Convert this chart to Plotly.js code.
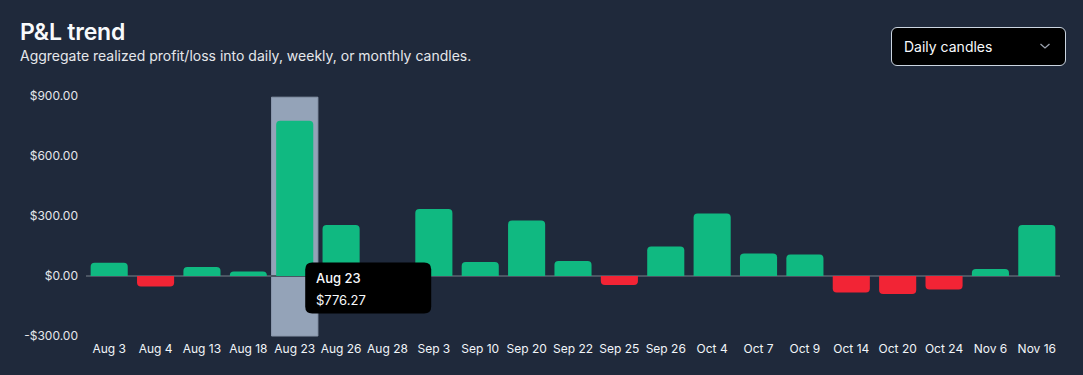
<!DOCTYPE html>
<html>
<head>
<meta charset="utf-8">
<script src="https://cdn.plot.ly/plotly-3.0.1.min.js"></script>
<style>
  html, body { margin:0; padding:0; background:#1f293b; width:1083px; height:375px; overflow:hidden;
    font-family: Inter, "Noto Sans", "DejaVu Sans", sans-serif; }
  #chart { position:absolute; left:0; top:0; width:1083px; height:375px; }
  #hdr { position:absolute; left:20px; top:19px; z-index:2; color:#f8fafc; }
  #hdr .t { font-size:23px; font-weight:600; line-height:27px; letter-spacing:-0.2px; }
  #hdr .s { font-size:14px; font-weight:400; line-height:18px; color:#e5e7eb; margin-top:1px; }
  #dd { position:absolute; left:891px; top:27px; width:173px; height:37px; z-index:2;
    background:#000; border:1px solid #cbd5e1; border-radius:6px; box-sizing:content-box; }
  #dd .l { position:absolute; left:12px; top:0; line-height:37px; font-size:14px; color:#f8fafc; }
  #dd svg { position:absolute; right:14px; top:13px; }
</style>
</head>
<body>
<div id="hdr">
  <div class="t">P&amp;L trend</div>
  <div class="s">Aggregate realized profit/loss into daily, weekly, or monthly candles.</div>
</div>
<div id="dd">
  <span class="l">Daily candles</span>
  <svg width="12" height="10" viewBox="0 0 12 10"><path d="M1.5 3 L6 7 L10.5 3" fill="none" stroke="#9ca3af" stroke-width="1.3"/></svg>
</div>
<div id="chart"></div>
<script>
// ---- data ----
const categories = ["Aug 3","Aug 4","Aug 13","Aug 18","Aug 23","Aug 26","Aug 28","Sep 3","Sep 10","Sep 20","Sep 22","Sep 25","Sep 26","Oct 4","Oct 7","Oct 9","Oct 14","Oct 20","Oct 24","Nov 6","Nov 16"];
const pnlValues = [66, -53, 45, 23, 776.27, 255, 0, 335, 70, 278, 75, -45, 148, 313, 113, 107, -83, -90, -67, 35, 255];
const yTickVals = [-300, 0, 300, 600, 900];
const yTickText = ["-$300.00", "$0.00", "$300.00", "$600.00", "$900.00"];
const hoveredCategory = "Aug 23";

const POS = "#10b981", NEG = "#f22435";
const fmt = v => (v < 0 ? "-$" : "$") + Math.abs(v).toLocaleString("en-US", {minimumFractionDigits:2, maximumFractionDigits:2});

const hi = categories.indexOf(hoveredCategory);
const hiVal = pnlValues[hi];

const trace = {
  type: "bar",
  x: categories,
  y: pnlValues,
  marker: { color: pnlValues.map(v => v >= 0 ? POS : NEG), cornerradius: 4, line: {width: 0} },
  hoverinfo: "skip"
};

// rounded tooltip box in pixel units relative to hovered bar at y=0
const bx0 = 10.5, bx1 = 136.5, by0 = -37.5, by1 = 13.5, r = 7;
const tipPath = `M ${bx0 + r} ${by1} L ${bx1 - r} ${by1} Q ${bx1} ${by1} ${bx1} ${by1 - r} L ${bx1} ${by0 + r} Q ${bx1} ${by0} ${bx1 - r} ${by0} L ${bx0 + r} ${by0} Q ${bx0} ${by0} ${bx0} ${by0 + r} L ${bx0} ${by1 - r} Q ${bx0} ${by1} ${bx0 + r} ${by1} Z`;

const layout = {
  width: 1083, height: 375,
  margin: { l: 86, r: 23, t: 96, b: 39, pad: 0 },
  paper_bgcolor: "#1f293b", plot_bgcolor: "#1f293b",
  font: { family: "Inter, 'Noto Sans', sans-serif", color: "#e5e7eb", size: 12 },
  showlegend: false,
  bargap: 0.2,
  xaxis: {
    type: "category", showgrid: false, zeroline: false, showline: false, ticks: "",
    tickfont: { size: 12, color: "#f1f5f9" }, ticklabelstandoff: 4, fixedrange: true
  },
  yaxis: {
    range: [-300, 900], tickvals: yTickVals, ticktext: yTickText,
    showgrid: false, zeroline: true, zerolinecolor: "#4b5563", zerolinewidth: 1.5,
    showline: false, ticks: "", tickfont: { size: 12, color: "#e5e7eb" }, ticklabelstandoff: 7, fixedrange: true
  },
  shapes: [
    { type: "rect", layer: "below", xref: "x", yref: "paper", x0: hi - 0.5, x1: hi + 0.5, y0: 0, y1: 0.995,
      fillcolor: "#94a3b8", line: { width: 1, color: "#8a97ab" } },
    { type: "path", layer: "above", xref: "x", yref: "y", xsizemode: "pixel", ysizemode: "pixel",
      xanchor: hi, yanchor: 0, path: tipPath, fillcolor: "#000000", line: { width: 0 } }
  ],
  annotations: [
    { xref: "x", yref: "y", x: hi, y: 0, xanchor: "left", yanchor: "middle", xshift: 19, yshift: -2,
      text: hoveredCategory, showarrow: false, font: { size: 13, color: "#f8fafc", weight: 500 } },
    { xref: "x", yref: "y", x: hi, y: 0, xanchor: "left", yanchor: "middle", xshift: 19, yshift: -24,
      text: fmt(hiVal), showarrow: false, font: { size: 13, color: "#f8fafc" } }
  ]
};

Plotly.newPlot("chart", [trace], layout, { displayModeBar: false, staticPlot: true });
</script>
</body>
</html>
